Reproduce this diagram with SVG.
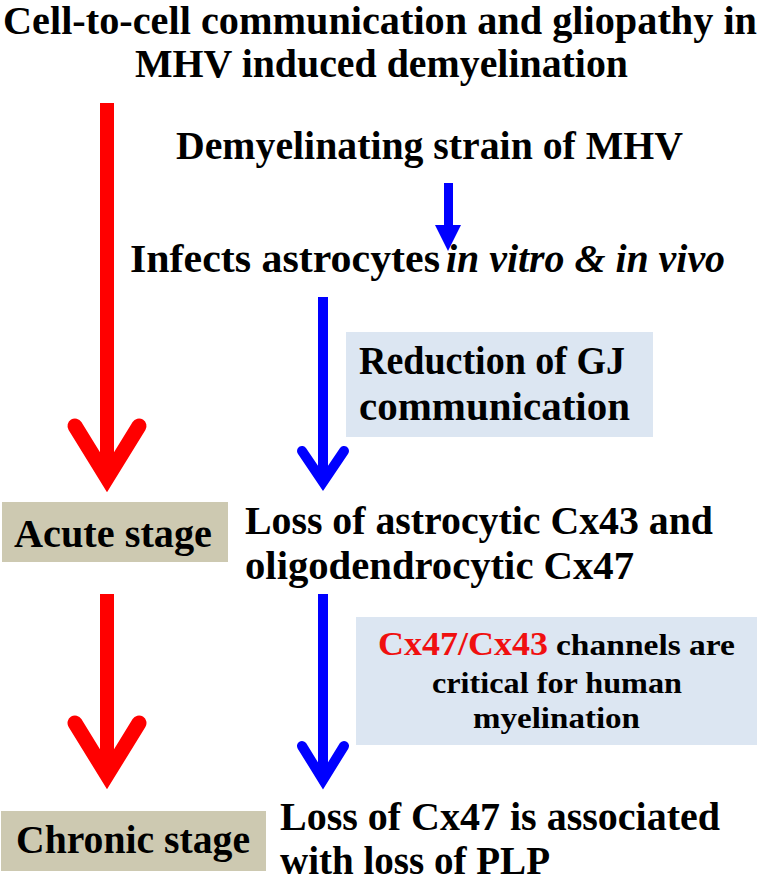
<svg xmlns="http://www.w3.org/2000/svg" width="769" height="887" viewBox="0 0 769 887">
<style>
  text { font-family: "Liberation Serif", "DejaVu Serif", serif; font-weight: bold; fill: #000; }
  .t { font-size: 39px; }
  .m { font-size: 39px; }
  .g { font-size: 41px; }
  .s { font-size: 29px; }
  .r { font-size: 34px; }
  .it { font-style: italic; }
  .red { fill: #f01010; }
  .note { fill: #dce6f2; }
  .stage { fill: #cdc9b1; }
  .ra { stroke: #ff0000; fill: none; }
  .ba { stroke: #0000ff; fill: none; }
  .head { stroke-linecap: round; stroke-linejoin: miter; }
</style>
<rect width="769" height="887" fill="#ffffff"/>

<g id="title">
  <text class="t" x="3" y="34" textLength="754" lengthAdjust="spacingAndGlyphs">Cell-to-cell communication and gliopathy in</text>
  <text class="t" x="135" y="77" textLength="493" lengthAdjust="spacingAndGlyphs">MHV induced demyelination</text>
</g>

<g id="connectors">
  <!-- red arrow 1 -->
  <line class="ra" x1="107" y1="103" x2="107" y2="478" stroke-width="14"/>
  <polyline class="ra head" points="75,426 107,478 139,426" stroke-width="15"/>
  <!-- red arrow 2 -->
  <line class="ra" x1="107" y1="594" x2="107" y2="775" stroke-width="14"/>
  <polyline class="ra head" points="75,723 107,775 139,723" stroke-width="15"/>
  <!-- small blue arrow -->
  <rect x="444" y="183" width="9" height="44" fill="#0000ff"/>
  <polygon points="435,225 461,225 448,251" fill="#0000ff"/>
  <!-- blue arrow 2 -->
  <line class="ba" x1="323" y1="297" x2="323" y2="482" stroke-width="10"/>
  <polyline class="ba head" points="302,451 323,482 344,451" stroke-width="10"/>
  <!-- blue arrow 3 -->
  <line class="ba" x1="323" y1="594" x2="323" y2="780" stroke-width="10"/>
  <polyline class="ba head" points="302,746 323,780 344,746" stroke-width="10"/>
</g>

<g id="node-strain">
  <text class="m" x="176" y="159" textLength="507" lengthAdjust="spacingAndGlyphs">Demyelinating strain of MHV</text>
</g>

<g id="node-infects">
  <text class="m" x="130" y="272" textLength="310" lengthAdjust="spacingAndGlyphs">Infects astrocytes</text>
  <text class="m it" x="446" y="272" textLength="279" lengthAdjust="spacingAndGlyphs">in vitro &amp; in vivo</text>
</g>

<g id="node-reduction">
  <rect class="note" x="346" y="332" width="307" height="105"/>
  <text class="m" x="359" y="374" textLength="266" lengthAdjust="spacingAndGlyphs">Reduction of GJ</text>
  <text class="m" x="359" y="420" textLength="271" lengthAdjust="spacingAndGlyphs">communication</text>
</g>

<g id="node-acute">
  <rect class="stage" x="2" y="502" width="226" height="60"/>
  <text class="g" x="14" y="547" textLength="198" lengthAdjust="spacingAndGlyphs">Acute stage</text>
</g>

<g id="node-loss-cx43">
  <text class="m" x="245" y="534" textLength="468" lengthAdjust="spacingAndGlyphs">Loss of astrocytic Cx43 and</text>
  <text class="m" x="245" y="579" textLength="389" lengthAdjust="spacingAndGlyphs">oligodendrocytic Cx47</text>
</g>

<g id="node-channels">
  <rect class="note" x="356" y="617" width="401" height="128"/>
  <text class="r red" x="378" y="655" textLength="170" lengthAdjust="spacingAndGlyphs">Cx47/Cx43</text>
  <text class="s" x="556" y="655" textLength="179" lengthAdjust="spacingAndGlyphs">channels are</text>
  <text class="s" x="432" y="693" textLength="250" lengthAdjust="spacingAndGlyphs">critical for human</text>
  <text class="s" x="473" y="728" textLength="167" lengthAdjust="spacingAndGlyphs">myelination</text>
</g>

<g id="node-chronic">
  <rect class="stage" x="1" y="811" width="265" height="60"/>
  <text class="g" x="16" y="853" textLength="234" lengthAdjust="spacingAndGlyphs">Chronic stage</text>
</g>

<g id="node-loss-cx47">
  <text class="m" x="280" y="830" textLength="440" lengthAdjust="spacingAndGlyphs">Loss of Cx47 is associated</text>
  <text class="m" x="280" y="874" textLength="270" lengthAdjust="spacingAndGlyphs">with loss of PLP</text>
</g>
</svg>
